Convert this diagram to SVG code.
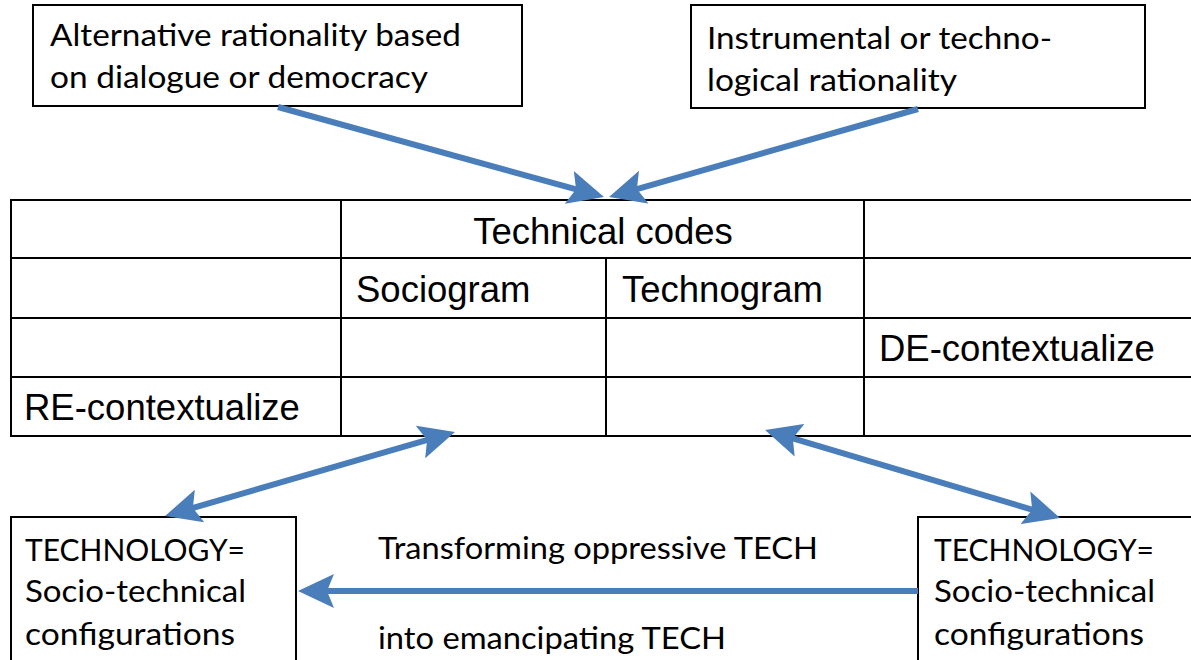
<svg xmlns="http://www.w3.org/2000/svg" width="1191" height="660" viewBox="0 0 1191 660">
  <style>
    .box { fill: #ffffff; stroke: #000000; stroke-width: 2; }
    .grid { stroke: #000000; stroke-width: 2; fill: none; }
    .cal { font-family: Lato, "Open Sans", "Liberation Sans", sans-serif; font-size: 31px; fill: #000000; }
    .tbl { font-family: "Liberation Sans", Arial, sans-serif; font-size: 36.5px; fill: #000000; }
    .arrow { stroke: #4A7EBB; stroke-width: 6; fill: none; }
  </style>
  <defs>
    <marker id="head" markerUnits="userSpaceOnUse" markerWidth="36" markerHeight="34" viewBox="0 0 36 34" refX="28" refY="17" orient="auto-start-reverse">
      <path d="M0,0 L36,17 L0,34 L7,17 Z" fill="#4A7EBB"/>
    </marker>
  </defs>
  <rect width="1191" height="660" fill="#ffffff"/>

  <!-- rationality boxes -->
  <g id="alt-rationality">
    <rect class="box" x="33" y="5" width="489" height="101"/>
    <text class="cal" x="50" y="46" textLength="411" lengthAdjust="spacingAndGlyphs">Alternative rationality based</text>
    <text class="cal" x="50" y="88" textLength="378" lengthAdjust="spacingAndGlyphs">on dialogue or democracy</text>
  </g>
  <g id="instr-rationality">
    <rect class="box" x="691" y="5" width="454" height="103"/>
    <text class="cal" x="707" y="49" textLength="345" lengthAdjust="spacingAndGlyphs">Instrumental or techno-</text>
    <text class="cal" x="707" y="91" textLength="250" lengthAdjust="spacingAndGlyphs">logical rationality</text>
  </g>

  <!-- technical codes table -->
  <g id="codes-table">
    <line class="grid" x1="11" y1="200" x2="1195" y2="200"/>
    <line class="grid" x1="11" y1="258" x2="1195" y2="258"/>
    <line class="grid" x1="11" y1="318" x2="1195" y2="318"/>
    <line class="grid" x1="11" y1="377" x2="1195" y2="377"/>
    <line class="grid" x1="11" y1="436" x2="1195" y2="436"/>
    <line class="grid" x1="11" y1="199" x2="11" y2="437"/>
    <line class="grid" x1="341" y1="199" x2="341" y2="437"/>
    <line class="grid" x1="606" y1="258" x2="606" y2="437"/>
    <line class="grid" x1="864" y1="199" x2="864" y2="437"/>
    <text class="tbl" x="603" y="244" text-anchor="middle">Technical codes</text>
    <text class="tbl" x="356" y="302">Sociogram</text>
    <text class="tbl" x="622" y="302">Technogram</text>
    <text class="tbl" x="879" y="361">DE-contextualize</text>
    <text class="tbl" x="24" y="420">RE-contextualize</text>
  </g>

  <!-- socio-technical configuration boxes -->
  <g id="tech-left">
    <rect class="box" x="11" y="517" width="285" height="150"/>
    <text class="cal" x="25" y="561" textLength="220" lengthAdjust="spacingAndGlyphs">TECHNOLOGY=</text>
    <text class="cal" x="25" y="602" textLength="221" lengthAdjust="spacingAndGlyphs">Socio-technical</text>
    <text class="cal" x="25" y="645" textLength="210" lengthAdjust="spacingAndGlyphs">configurations</text>
  </g>
  <g id="tech-right">
    <rect class="box" x="918" y="517" width="285" height="150"/>
    <text class="cal" x="934" y="561" textLength="220" lengthAdjust="spacingAndGlyphs">TECHNOLOGY=</text>
    <text class="cal" x="934" y="602" textLength="221" lengthAdjust="spacingAndGlyphs">Socio-technical</text>
    <text class="cal" x="934" y="645" textLength="210" lengthAdjust="spacingAndGlyphs">configurations</text>
  </g>

  <!-- connectors -->
  <g id="connectors">
    <line class="arrow" x1="278" y1="107" x2="596.3" y2="194.9" marker-end="url(#head)"/>
    <line class="arrow" x1="918" y1="109" x2="616.7" y2="194.8" marker-end="url(#head)"/>
    <line class="arrow" x1="447.3" y1="434.2" x2="172.7" y2="513.8" marker-start="url(#head)" marker-end="url(#head)"/>
    <line class="arrow" x1="772.7" y1="432.3" x2="1052.3" y2="515.7" marker-start="url(#head)" marker-end="url(#head)"/>
    <line class="arrow" x1="918" y1="591" x2="306" y2="591" marker-end="url(#head)"/>
    <text class="cal" x="378" y="559" textLength="440" lengthAdjust="spacingAndGlyphs">Transforming oppressive TECH</text>
    <text class="cal" x="378" y="649" textLength="348" lengthAdjust="spacingAndGlyphs">into emancipating TECH</text>
  </g>
</svg>
